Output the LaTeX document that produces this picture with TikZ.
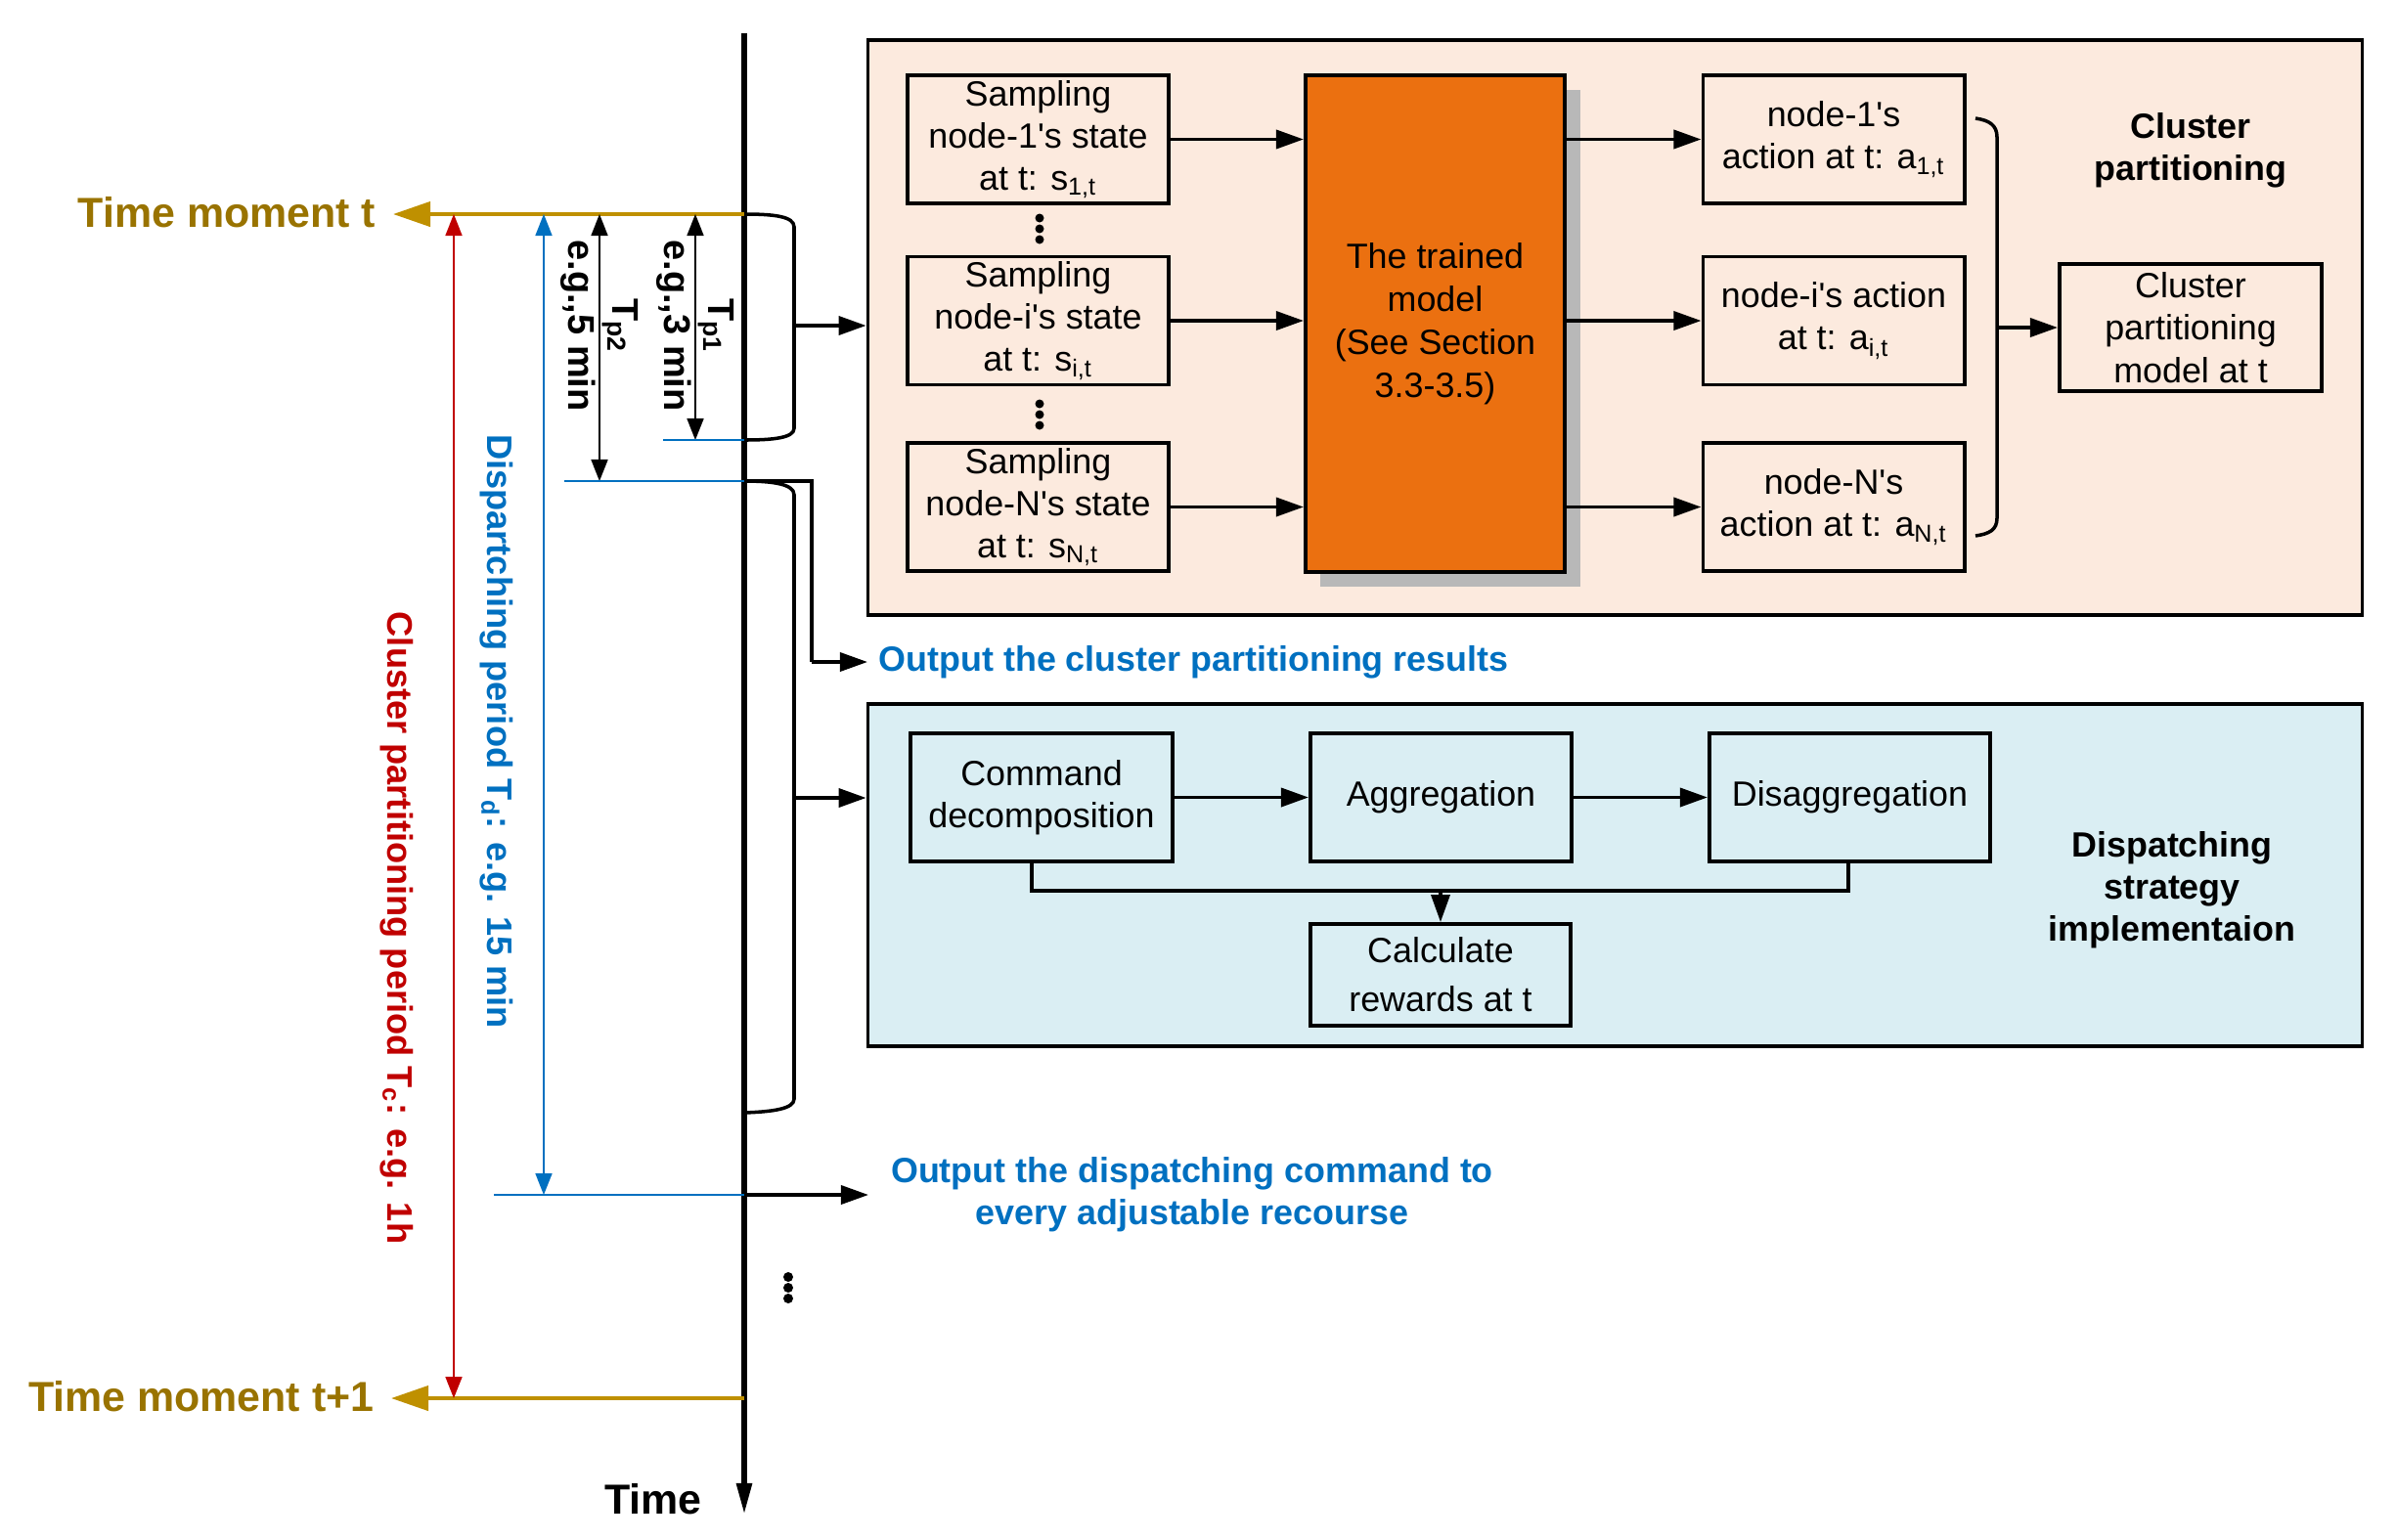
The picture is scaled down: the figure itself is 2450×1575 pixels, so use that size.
\documentclass[tikz,border=0pt]{standalone}
\usepackage{fontspec}
\setmainfont{Liberation Sans}
\usetikzlibrary{arrows.meta,calc}
\definecolor{peach}{RGB}{252,234,222}
\definecolor{ltblue}{RGB}{218,238,243}
\definecolor{orng}{RGB}{235,112,16}
\definecolor{goldl}{RGB}{191,144,0}
\definecolor{goldt}{RGB}{153,115,0}
\definecolor{redc}{RGB}{192,0,0}
\definecolor{bluec}{RGB}{0,112,192}
\newcommand{\aps}{\textquotesingle}
\tikzset{
  panel/.style={draw, line width=1.1pt, inner sep=0pt},
  box/.style={draw, line width=1.1pt, inner sep=0pt, align=center,
    minimum width=2.67cm, minimum height=1.31cm,
    font=\fontsize{10.2}{12.3}\selectfont},
  arr/.style={line width=1pt, -{Triangle[length=0.28cm,width=0.19cm]}},
  plainln/.style={line width=1pt},
  thinarr/.style={line width=0.5pt, {Triangle[length=0.22cm,width=0.17cm]}-{Triangle[length=0.22cm,width=0.17cm]}},
  goldarr/.style={goldl, line width=1.2pt, -{Triangle[length=0.38cm,width=0.25cm]}},
  bigbold/.style={font=\fontsize{12.2}{14}\selectfont\bfseries},
  lblbold/.style={font=\fontsize{10.2}{12.3}\selectfont\bfseries, align=center},
  rotlbl/.style={rotate=-90, font=\fontsize{10.3}{13}\selectfont\bfseries, align=center},
  tplbl/.style={rotate=-90, font=\fontsize{10.8}{13}\selectfont\bfseries, align=center, inner sep=1pt},
  dotc/.style={fill=black},
}
\begin{document}
\begin{tikzpicture}[x=0.01cm,y=-0.01cm]
\useasboundingbox (0,0) rectangle (2450,1575);

% ---------- panels ----------
\node[panel, fill=peach, minimum width=15.27cm, minimum height=5.88cm] (cbox) at (1651.5,335) {};
\node[panel, fill=ltblue, minimum width=15.27cm, minimum height=3.50cm] (dbox) at (1651.5,895) {};

% ---------- cluster partitioning content ----------
\node[box] (s1) at (1061.5,142.5) {Sampling\\node-1\aps s state\\at t: s\textsubscript{1,t}};
\node[box] (si) at (1061.5,328) {Sampling\\node-i\aps s state\\at t: s\textsubscript{i,t}};
\node[box] (sn) at (1061.5,518.5) {Sampling\\node-N\aps s state\\at t: s\textsubscript{N,t}};

\fill[black!28] (1350,92) rectangle (1616,600);
\node[box, fill=orng, minimum width=2.65cm, minimum height=5.08cm,
      font=\fontsize{10.2}{12.5}\selectfont] (model) at (1467.5,331)
  {The trained\\model\\(See Section\\3.3-3.5)};

\node[box] (a1) at (1875,142.5) {node-1\aps s\\action at t: a\textsubscript{1,t}};
\node[box] (ai) at (1875,328) {node-i\aps s action\\at t: a\textsubscript{i,t}};
\node[box] (an) at (1875,518.5) {node-N\aps s\\action at t: a\textsubscript{N,t}};

\node[box, minimum width=2.68cm, minimum height=1.30cm] (cpm) at (2240,335)
  {Cluster\\partitioning\\model at t};
\node[lblbold] (cplbl) at (2240,154) {Cluster\\partitioning};

\foreach \yy in {223,234,245,413,424,435}{\fill[dotc] (1063,\yy) circle (4.5);}

\draw[arr] (s1.east) -- (s1.east -| model.west);
\draw[arr] (si.east) -- (si.east -| model.west);
\draw[arr] (sn.east) -- (sn.east -| model.west);
\draw[arr] (model.east |- a1.west) -- (a1.west);
\draw[arr] (model.east |- ai.west) -- (ai.west);
\draw[arr] (model.east |- an.west) -- (an.west);

\coordinate (rb1) at (2020,121);
\coordinate (rb2) at (2020,548);
\coordinate (rbm) at (2042,335);
\draw[plainln] (rb1) .. controls (2034,123) and (2042,128) .. (2042,140) -- (2042,530) .. controls (2042,542) and (2034,546) .. (rb2);
\draw[arr] (rbm) -- (cpm.west);

% ---------- dispatching content ----------
\node[box] (cmd) at (1065,815.5) {Command\\decomposition};
\node[box] (agg) at (1473.5,815.5) {Aggregation};
\node[box, minimum width=2.87cm] (dis) at (1891.5,815.5) {Disaggregation};
\node[box, minimum width=2.66cm, minimum height=1.04cm] (calc) at (1473,997) {Calculate\\[2pt]rewards at t};
\node[lblbold] (dslbl) at (2221,910) {Dispatching\\strategy\\implementaion};

\draw[arr] (cmd.east) -- (agg.west);
\draw[arr] (agg.east) -- (dis.west);
\coordinate (bl) at (1055,911);
\coordinate (br) at (1890,911);
\draw[plainln] (cmd.south -| bl) -- (bl) -- (br) -- (dis.south -| br);
\draw[arr] (calc.north |- bl) -- (calc.north);

% ---------- time axis ----------
\coordinate (ax0) at (761,34);
\coordinate (ax1) at (761,1549);
\draw[line width=1.6pt, -{Triangle[length=0.32cm,width=0.15cm]}] (ax0) -- (ax1);
\node[bigbold] (timelbl) at (668,1533) {Time};

\coordinate (tA) at (761,219);
\coordinate (tB) at (761,1430);
\node[bigbold, text=goldt, anchor=east, inner sep=0.17cm] (tmt) at (402,217) {Time moment t};
\node[bigbold, text=goldt, anchor=east, inner sep=0.17cm] (tmt1) at (400,1428) {Time moment t+1};
\draw[goldarr] (tA) -- (tA -| tmt.east);
\draw[goldarr] (tB) -- (tB -| tmt1.east);

% red period
\coordinate (rT) at (464,219);
\coordinate (rB) at (464,1430);
\draw[thinarr, redc] (rT) -- (rB);
\node[rotlbl, text=redc] (rl) at (406,949) {Cluster partitioning period T\textsubscript{c}: e.g. 1h};

% blue period
\coordinate (bT) at (556,219);
\coordinate (bB) at (556,1222);
\coordinate (bL) at (505,1222);
\coordinate (axd) at (761,1222);
\draw[thinarr, bluec] (bT) -- (bB);
\draw[bluec, line width=0.8pt] (bL) -- (axd);
\node[rotlbl, text=bluec] (bl2) at (508,748) {Dispartching period T\textsubscript{d}: e.g. 15 min};

% Tp2
\coordinate (p2T) at (613,219);
\coordinate (p2B) at (613,492);
\coordinate (p2L) at (577,492);
\coordinate (axp2) at (761,492);
\draw[thinarr] (p2T) -- (p2B);
\draw[bluec, line width=0.8pt] (p2L) -- (axp2);
\node[tplbl] (tp2) at (613,333) {T\textsubscript{p2}\\e.g.,5 min};

% Tp1
\coordinate (p1T) at (711,219);
\coordinate (p1B) at (711,450);
\coordinate (p1L) at (678,450);
\coordinate (axp1) at (761,450);
\draw[thinarr] (p1T) -- (p1B);
\draw[bluec, line width=0.8pt] (p1L) -- (axp1);
\node[tplbl] (tp1) at (711,333) {T\textsubscript{p1}\\e.g.,3 min};

% bracket 1
\coordinate (k1) at (812,333);
\draw[plainln] (tA) .. controls (790,219) and (812,221) .. (812,232) -- (812,438) .. controls (812,448) and (790,450) .. (axp1);
\draw[arr] (k1) -- (k1 -| cbox.west);

% bracket 2
\coordinate (k2) at (812,816);
\coordinate (axe) at (761,1138);
\draw[plainln] (axp2) .. controls (790,492) and (812,495) .. (812,506) -- (812,1124) .. controls (812,1134) and (790,1137) .. (axe);
\draw[arr] (k2) -- (k2 -| dbox.west);

% output cluster result
\coordinate (oc1) at (830,492);
\node[lblbold, text=bluec, anchor=west, inner sep=0pt] (ocl) at (898,677) {Output the cluster partitioning results};
\coordinate (oc2) at (830,677);
\draw[plainln] (axp2) -- (oc1) -- (oc2);
\draw[arr] (oc2) -- (887,677);

% output dispatching
\node[lblbold, text=bluec] (odc) at (1219,1222) {Output the dispatching command to\\every adjustable recourse};
\coordinate (odA) at (888,1222);
\draw[arr] (axd) -- (odA);

% dots on axis
\foreach \yy in {1306,1317,1328}{\fill[dotc] (806,\yy) circle (5);}
\end{tikzpicture}
\end{document}
